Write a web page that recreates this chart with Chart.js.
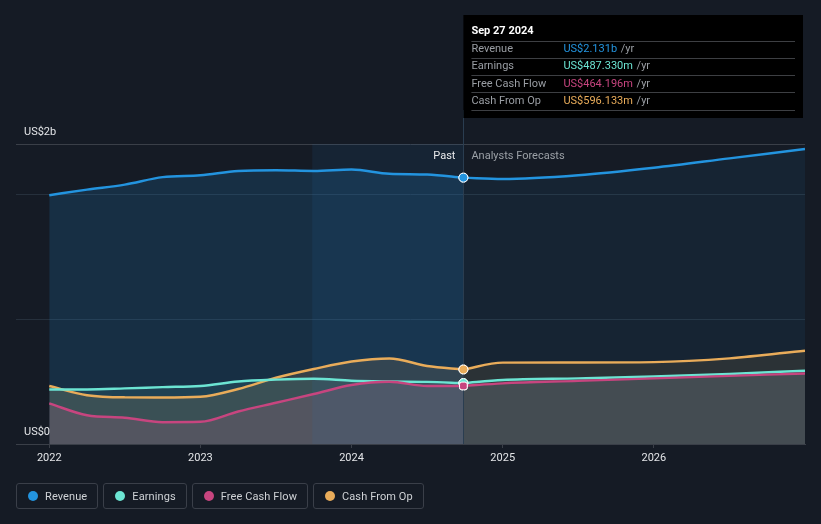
<!DOCTYPE html>
<html>
<head>
<meta charset="utf-8">
<script src="https://cdn.jsdelivr.net/npm/chart.js@4.4.1/dist/chart.umd.min.js"></script>
<style>
  html, body { margin: 0; padding: 0; background: #151b25; }
  body { width: 821px; height: 524px; position: relative; overflow: hidden; font-family: Roboto, "Noto Sans", sans-serif; }
  #wrap { position: absolute; left: 0; top: 0; width: 821px; height: 524px; }
  #legend { position: absolute; left: 16px; top: 483px; display: flex; gap: 5px; }
  .item { box-sizing: border-box; height: 26px; border: 1px solid #3a3f49; border-radius: 3px; display: flex; align-items: center; padding: 0 10px 0 11px; gap: 7px; color: #cfd2d6; font-size: 11px; letter-spacing: 0.1px; }
  .dot { width: 10px; height: 10px; border-radius: 50%; }
</style>
</head>
<body>
<div id="wrap"><canvas id="c" width="821" height="524"></canvas></div>
<div id="legend"></div>
<script>
// ---- data (values in US$ billions) ----
const seriesNames = ["Revenue", "Earnings", "Free Cash Flow", "Cash From Op"];
const seriesColors = ["#2394df", "#6ce5d3", "#c7457f", "#e9ac5a"];
const pastYears = [2022.0, 2022.25, 2022.5, 2022.75, 2023.0, 2023.25, 2023.5, 2023.75, 2024.0, 2024.25, 2024.5, 2024.74];
const forecastYears = [2024.74, 2025.0, 2025.5, 2026.0, 2026.5, 2027.0];
const revenuePast = [1.99, 2.035, 2.075, 2.135, 2.15, 2.184, 2.19, 2.185, 2.196, 2.162, 2.156, 2.131];
const earningsPast = [0.437, 0.437, 0.445, 0.455, 0.464, 0.50, 0.515, 0.522, 0.506, 0.50, 0.497, 0.48733];
const fcfPast = [0.325, 0.23, 0.21, 0.175, 0.178, 0.26, 0.33, 0.40, 0.472, 0.498, 0.464, 0.464196];
const cfoPast = [0.464, 0.39, 0.373, 0.372, 0.378, 0.44, 0.53, 0.60, 0.66, 0.685, 0.624, 0.596133];
const revenueFc = [2.131, 2.12, 2.15, 2.21, 2.285, 2.36];
const earningsFc = [0.48733, 0.512, 0.525, 0.54, 0.56, 0.586];
const fcfFc = [0.464196, 0.485, 0.505, 0.525, 0.545, 0.565];
const cfoFc = [0.596133, 0.651, 0.652, 0.655, 0.685, 0.747];
const xTicks = [2022, 2023, 2024, 2025, 2026];
const yLabels = ["US$0", "US$2b"];
const tooltipTitle = "Sep 27 2024";
const pastLabel = "Past";
const forecastLabel = "Analysts Forecasts";
const bandStart = 2023.74;
const nowYear = 2024.74;

// ---- build datasets ----
const pastSets = [revenuePast, earningsPast, fcfPast, cfoPast];
const fcSets = [revenueFc, earningsFc, fcfFc, cfoFc];
const pastFill = ["rgba(35,148,223,0.17)", "rgba(108,229,211,0.10)", "rgba(210,110,150,0.17)", "rgba(233,172,90,0.14)"];
const fcFill = ["rgba(35,148,223,0.08)", "rgba(160,200,200,0.07)", "rgba(200,190,210,0.12)", "rgba(233,172,90,0.10)"];
const orders = [4, 2, 1, 3];
const datasets = [];
seriesNames.forEach((name, i) => {
  const pts = pastSets[i].map((v, k) => ({x: pastYears[k], y: v}));
  datasets.push({
    label: name, data: pts, borderColor: seriesColors[i], backgroundColor: pastFill[i],
    fill: 'origin', borderWidth: 2.5, tension: 0.4, cubicInterpolationMode: 'monotone', order: orders[i],
    pointRadius: pts.map((p, k) => k === pts.length - 1 ? 4.5 : 0),
    pointBackgroundColor: seriesColors[i], pointBorderColor: '#ffffff', pointBorderWidth: 1,
    pointStyle: i === 2 ? 'rectRounded' : 'circle'
  });
  const fpts = fcSets[i].map((v, k) => ({x: forecastYears[k], y: v}));
  datasets.push({
    label: name + " forecast", data: fpts, borderColor: seriesColors[i], backgroundColor: fcFill[i],
    fill: 'origin', borderWidth: 2.5, tension: 0.4, cubicInterpolationMode: 'monotone', order: orders[i] + 0.5,
    pointRadius: 0
  });
});

const FONT = 'Roboto, "Noto Sans", sans-serif';

const overlay = {
  id: 'overlay',
  beforeDatasetsDraw(chart) {
    const {ctx, chartArea, scales} = chart;
    const x0 = scales.x.getPixelForValue(bandStart), x1 = scales.x.getPixelForValue(nowYear);
    ctx.save();
    ctx.fillStyle = 'rgba(40,120,190,0.10)';
    ctx.fillRect(x0, chartArea.top, x1 - x0, chartArea.bottom - chartArea.top);
    ctx.restore();
  },
  afterDatasetsDraw(chart) {
    const {ctx, chartArea, scales} = chart;
    const xn = scales.x.getPixelForValue(nowYear);
    ctx.save();
    ctx.strokeStyle = '#2a3d50';
    ctx.lineWidth = 1;
    ctx.beginPath(); ctx.moveTo(Math.round(xn) + 0.5, 110); ctx.lineTo(Math.round(xn) + 0.5, chartArea.bottom); ctx.stroke();
    ctx.font = '11px ' + FONT;
    ctx.textBaseline = 'middle';
    ctx.textAlign = 'right'; ctx.fillStyle = '#e8eaec';
    ctx.fillText(pastLabel, xn - 8, chartArea.top + 12);
    ctx.textAlign = 'left'; ctx.fillStyle = '#9ba0a6';
    ctx.fillText(forecastLabel, xn + 8, chartArea.top + 12);
    ctx.fillStyle = '#e3e5e8';
    ctx.fillText(yLabels[1], chartArea.left + 8, scales.y.getPixelForValue(scales.y.max) - 12);
    ctx.fillText(yLabels[0], chartArea.left + 8, scales.y.getPixelForValue(0) - 12);
    chart.data.datasets.forEach((ds, i) => {
      const meta = chart.getDatasetMeta(i);
      meta.data.forEach((el) => { if (el.options.radius > 0) el.draw(ctx, chartArea); });
    });
    const bx = xn, by = 15, bw = 803 - xn, bh = 103;
    ctx.fillStyle = '#000000';
    ctx.fillRect(bx, by, bw, bh);
    ctx.textAlign = 'left';
    ctx.font = 'bold 11px ' + FONT;
    ctx.fillStyle = '#ffffff';
    ctx.fillText(tooltipTitle, bx + 8, 31);
    const vals = [revenuePast, earningsPast, fcfPast, cfoPast].map(a => a[a.length - 1]);
    const fmt = v => v >= 1 ? 'US$' + v.toFixed(3) + 'b' : 'US$' + (v * 1000).toFixed(3) + 'm';
    const rowY = [49, 66, 84, 101];
    const lineY = [41.5, 58.5, 75.5, 92.5, 110.5];
    ctx.strokeStyle = '#3d3f43'; ctx.lineWidth = 1;
    lineY.forEach(y => { ctx.beginPath(); ctx.moveTo(bx + 8, y); ctx.lineTo(bx + bw - 8, y); ctx.stroke(); });
    ctx.font = '11px ' + FONT;
    seriesNames.forEach((n, i) => {
      ctx.fillStyle = '#9a9ea4';
      ctx.fillText(n, bx + 8, rowY[i]);
      const t = fmt(vals[i]);
      ctx.fillStyle = seriesColors[i];
      ctx.fillText(t, bx + 100, rowY[i]);
      const w = ctx.measureText(t).width;
      ctx.fillStyle = '#9a9ea4';
      ctx.fillText(' /yr', bx + 100 + w + 1, rowY[i]);
    });
    ctx.restore();
  }
};

new Chart(document.getElementById('c'), {
  type: 'line',
  data: { datasets },
  options: {
    responsive: false, animation: false, devicePixelRatio: 1,
    layout: { padding: { left: 16, right: 16, top: 144, bottom: 0 } },
    plugins: { legend: { display: false }, tooltip: { enabled: false }, filler: { drawTime: 'beforeDatasetsDraw' } },
    scales: {
      x: {
        type: 'linear', min: 2021.78, max: 2027.0,
        afterBuildTicks: s => { s.ticks = xTicks.map(v => ({value: v})); },
        afterFit: s => { s.height = 80; },
        ticks: { color: '#e3e5e8', font: { family: FONT, size: 11 }, padding: 4, maxRotation: 0, callback: v => String(v) },
        grid: { drawOnChartArea: false, drawTicks: true, tickLength: 4, color: '#3a3f48' },
        border: { display: true, color: '#3a3f48', width: 1 }
      },
      y: {
        min: 0, max: 2.4,
        afterBuildTicks: s => { s.ticks = [0, 1, 2, 2.4].map(v => ({value: v})); },
        afterFit: s => { s.width = 0; },
        ticks: { display: false },
        grid: { drawTicks: false, color: ctx => ctx.tick && ctx.tick.value === 2.4 ? '#3a3f48' : '#26303c' },
        border: { display: false }
      }
    }
  },
  plugins: [overlay]
});

// ---- legend ----
const lg = document.getElementById('legend');
seriesNames.forEach((n, i) => {
  const d = document.createElement('div'); d.className = 'item';
  const dot = document.createElement('span'); dot.className = 'dot'; dot.style.background = seriesColors[i];
  const t = document.createElement('span'); t.textContent = n;
  d.appendChild(dot); d.appendChild(t); lg.appendChild(d);
});
</script>
</body>
</html>
